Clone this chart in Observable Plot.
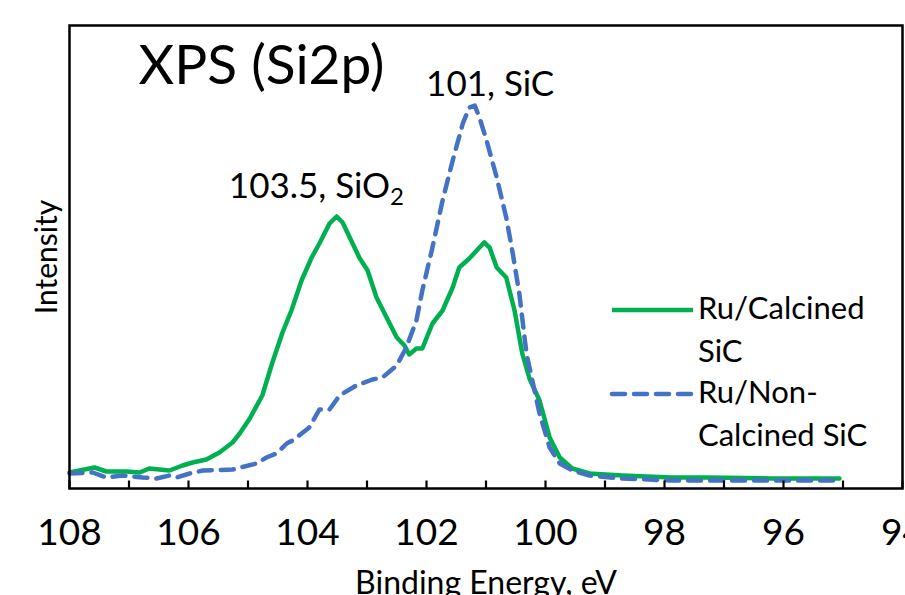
<!DOCTYPE html>
<html><head><meta charset="utf-8">
<script src="https://cdn.jsdelivr.net/npm/d3@7"></script>
<script src="https://cdn.jsdelivr.net/npm/@observablehq/plot@0.6"></script>
<style>
html,body{margin:0;padding:0;background:#fff;overflow:hidden}
#wrap{position:relative;width:905px;height:595px;overflow:hidden;background:#fff}
</style></head><body><div id="wrap"></div>
<script>
// Ru/Calcined SiC (solid green)
const calcinedE = [108.00,107.58,107.38,107.04,106.82,106.66,106.32,106.10,105.93,105.70,105.48,105.26,105.14,104.97,104.76,104.59,104.42,104.27,104.10,103.93,103.80,103.63,103.51,103.41,103.29,103.13,102.99,102.84,102.67,102.50,102.37,102.29,102.17,102.07,101.90,101.73,101.56,101.45,101.28,101.11,101.03,100.94,100.82,100.66,100.52,100.39,100.27,100.10,99.93,99.76,99.55,99.26,98.71,97.87,97.29,96.18,95.06];
const calcinedI = [16,21,17,17,16,20,18,23,26,29,36,46,55,70,93,126,156,178,208,231,245,265,272,266,251,231,218,191,171,151,143,134,140,140,165,178,201,221,230,241,246,241,221,211,178,135,110,88,51,31,20,15,13,11,11,10,10];
// Ru/Non-Calcined SiC (dashed blue)
const nonCalcinedE = [108.00,107.61,107.38,107.11,106.77,106.54,106.32,106.20,105.98,105.76,105.26,104.86,104.69,104.52,104.35,104.25,103.97,103.80,103.63,103.46,103.18,102.91,102.74,102.50,102.34,102.17,102.07,101.90,101.73,101.56,101.39,101.28,101.19,101.11,100.99,100.82,100.66,100.55,100.44,100.32,100.10,99.93,99.76,99.55,99.26,98.71,97.87,96.74,95.06];
const nonCalcinedI = [15,16,11,13,11,10,13,11,15,18,19,25,31,35,45,48,61,79,79,93,103,109,111,123,141,168,198,241,288,328,365,381,383,371,348,311,271,235,195,135,75,41,25,18,13,10,8,8,8];

const seriesNames = ["Ru/Calcined SiC", "Ru/Non-Calcined SiC"];
const legendLines = [["Ru/Calcined", "SiC"], ["Ru/Non-", "Calcined SiC"]];
const seriesColors = ["#00B050", "#4472C4"];
const majorTicks = [108, 106, 104, 102, 100, 98, 96, 94];
const minorTicks = [108, 107, 106, 105, 104, 103, 102, 101, 100, 99, 98, 97, 96, 95, 94];
const peakText = ["103.5, SiO2", "101, SiC"];
const peakE = [103.85, 100.93];
const peakI = [291, 393];
const titleText = "XPS (Si2p)";
const xLabel = "Binding Energy, eV";
const yLabel = "Intensity";
const yDomain = [0, 463];

const calcined = calcinedE.map((e, i) => ({E: e, I: calcinedI[i], s: seriesNames[0]}));
const nonCalcined = nonCalcinedE.map((e, i) => ({E: e, I: nonCalcinedI[i], s: seriesNames[1]}));
const peaks = peakText.map((t, i) => ({t, E: peakE[i], I: peakI[i]}));
// inward tick length: 8px expressed in the y scale's units (frame is 463px tall)
const tickLen = (yDomain[1] - yDomain[0]) * 8 / 463;
const tickRows = minorTicks.map(v => ({v}));

const chart = Plot.plot({
  width: 905, height: 610,
  marginTop: 25, marginBottom: 122, marginLeft: 69, marginRight: 3,
  style: {fontFamily: "Lato, sans-serif", fontSize: "37px", color: "#000", background: "#fff", overflow: "visible"},
  x: {domain: [108, 94], label: null},
  y: {domain: yDomain, axis: null, label: null},
  marks: [
    Plot.line(calcined, {x: "E", y: "I", stroke: seriesColors[0], strokeWidth: 4.5, strokeLinejoin: "round"}),
    Plot.line(nonCalcined, {x: "E", y: "I", stroke: seriesColors[1], strokeWidth: 4.5, strokeDasharray: "13,9", strokeLinecap: "round", strokeLinejoin: "round"}),
    Plot.link(tickRows, {x1: "v", x2: "v", y1: () => yDomain[0], y2: () => yDomain[0] + tickLen, stroke: "#000", strokeWidth: 2.2}),
    Plot.frame({stroke: "#000", strokeWidth: 2.5}),
    Plot.axisX({ticks: majorTicks, tickSize: 0, tickPadding: 30, fontSize: 37, label: null}),
    Plot.text(peaks, {x: "E", y: "I", text: "t", fontSize: 35, lineAnchor: "bottom", fill: "#000"}),
    Plot.text([titleText], {text: d => d, frameAnchor: "top-left", dx: 69, dy: 58, fontSize: 55, lineAnchor: "bottom", textAnchor: "start", fill: "#000"}),
    Plot.text([yLabel], {text: d => d, frameAnchor: "left", dx: -22, rotate: -90, fontSize: 30, lineAnchor: "middle", textAnchor: "middle", fill: "#000"}),
    Plot.text([xLabel], {text: d => d, frameAnchor: "bottom", dy: 105, fontSize: 32, lineAnchor: "bottom", textAnchor: "middle", fill: "#000"})
  ]
});

// subscript for SiO2
d3.select(chart).selectAll("text").filter(function () { return this.textContent === "103.5, SiO2"; })
  .each(function () {
    const t = d3.select(this);
    t.text("103.5, SiO");
    t.append("tspan").attr("font-size", 24).attr("dy", "0.3em").text("2");
  });

const wrap = document.getElementById("wrap");
wrap.appendChild(chart);

// legend overlay
const leg = d3.select(wrap).append("svg")
  .attr("width", 905).attr("height", 595)
  .style("position", "absolute").style("left", "0px").style("top", "0px")
  .style("font-family", "Lato, sans-serif").style("font-size", "31px");
const legX = 612, legLen = 81, legTop = 310, rowGap = 84, lineGap = 43;
legendLines.forEach((lines, i) => {
  const y = legTop + i * rowGap;
  const ln = leg.append("line").attr("x1", legX).attr("x2", legX + legLen).attr("y1", y).attr("y2", y)
    .attr("stroke", seriesColors[i]).attr("stroke-width", 4.5);
  if (i === 1) ln.attr("stroke-dasharray", "13,9").attr("stroke-linecap", "round");
  lines.forEach((txt, j) => {
    leg.append("text").attr("x", legX + legLen + 5).attr("y", y + 9 + j * lineGap).attr("fill", "#000").text(txt);
  });
});
</script></body></html>
